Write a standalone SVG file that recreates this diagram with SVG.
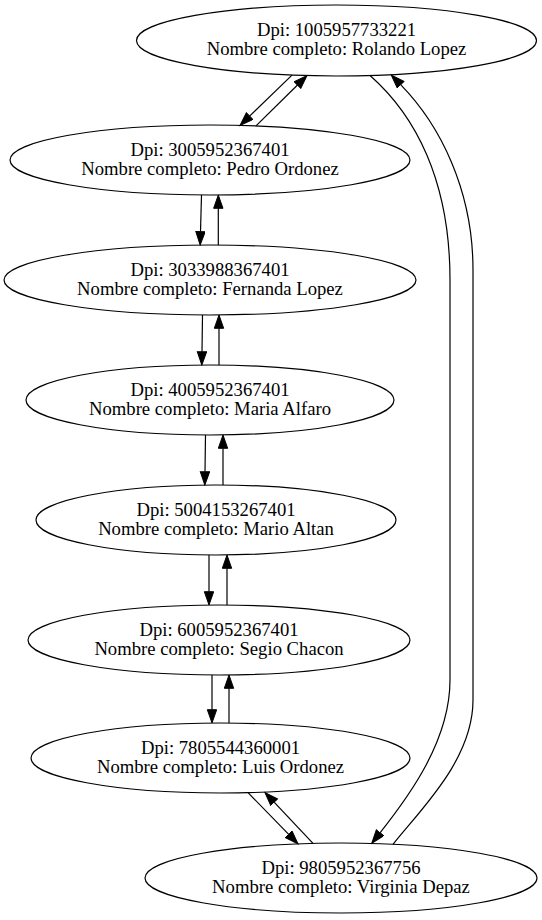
<svg xmlns="http://www.w3.org/2000/svg" width="542" height="920" viewBox="0 0 542 920">
<style>
.n ellipse{fill:none;stroke:#000;stroke-width:1.2}
.n text{font-family:"Liberation Serif","Times New Roman",serif;font-size:18.67px;text-anchor:middle;fill:#000}
#edges path{fill:none;stroke:#000;stroke-width:1.2;marker-end:url(#ah)}
</style>
<defs>
<marker id="ah" markerUnits="userSpaceOnUse" markerWidth="15" markerHeight="11" refX="0.5" refY="5" orient="auto" viewBox="0 0 15 11">
<path d="M0.5,0.33 L13.8,5 L0.5,9.67 z" fill="#000" stroke="#000" stroke-width="1"/>
</marker>
</defs>
<rect width="542" height="920" fill="#fff"/>
<g id="n1" class="n"><ellipse cx="336.5" cy="40.5" rx="200" ry="35.5"/><text x="336.5" y="36">Dpi: 1005957733221</text><text x="336.5" y="55">Nombre completo: Rolando Lopez</text></g>
<g id="n2" class="n"><ellipse cx="210" cy="160" rx="200" ry="35"/><text x="210" y="155.5">Dpi: 3005952367401</text><text x="210" y="174.5">Nombre completo: Pedro Ordonez</text></g>
<g id="n3" class="n"><ellipse cx="210" cy="280" rx="206" ry="35"/><text x="210" y="275.5">Dpi: 3033988367401</text><text x="210" y="294.5">Nombre completo: Fernanda Lopez</text></g>
<g id="n4" class="n"><ellipse cx="210" cy="400" rx="184" ry="35"/><text x="210" y="395.5">Dpi: 4005952367401</text><text x="210" y="414.5">Nombre completo: Maria Alfaro</text></g>
<g id="n5" class="n"><ellipse cx="216" cy="520" rx="180" ry="35"/><text x="216" y="515.5">Dpi: 5004153267401</text><text x="216" y="534.5">Nombre completo: Mario Altan</text></g>
<g id="n6" class="n"><ellipse cx="219" cy="640" rx="191" ry="35"/><text x="219" y="635.5">Dpi: 6005952367401</text><text x="219" y="654.5">Nombre completo: Segio Chacon</text></g>
<g id="n7" class="n"><ellipse cx="220.5" cy="758" rx="189.5" ry="35"/><text x="220.5" y="753.5">Dpi: 7805544360001</text><text x="220.5" y="772.5">Nombre completo: Luis Ordonez</text></g>
<g id="n8" class="n"><ellipse cx="341" cy="878" rx="196" ry="35"/><text x="341" y="873.5">Dpi: 9805952367756</text><text x="341" y="892.5">Nombre completo: Virginia Depaz</text></g>
<g id="edges">
<path d="M292,75.1 L249.6,116.1"/>
<path d="M256,125.9 L297.5,85"/>
<path d="M201.5,195 L200.5,231.7"/>
<path d="M218.3,245 L218.3,208.3"/>
<path d="M202.5,315 L202,351.7"/>
<path d="M219,365 L219,328.3"/>
<path d="M205.5,435 L205,471.7"/>
<path d="M223,485 L223,448.3"/>
<path d="M209,555 L209,591.7"/>
<path d="M227,605 L227,568.3"/>
<path d="M212,675 L212,709.7"/>
<path d="M229,723 L229,688.3"/>
<path d="M248,792.6 L288.7,834.3"/>
<path d="M313,843.4 L274.1,802.2"/>
<path d="M370,75.5 C415,115 450,180 450,280 L450,680 C450,740 410,795 380,832.8"/>
<path d="M393,844.3 C420,810 473,760 473,700 L473,270 C473,190 440,125 400.6,84.7"/>
</g>
</svg>
